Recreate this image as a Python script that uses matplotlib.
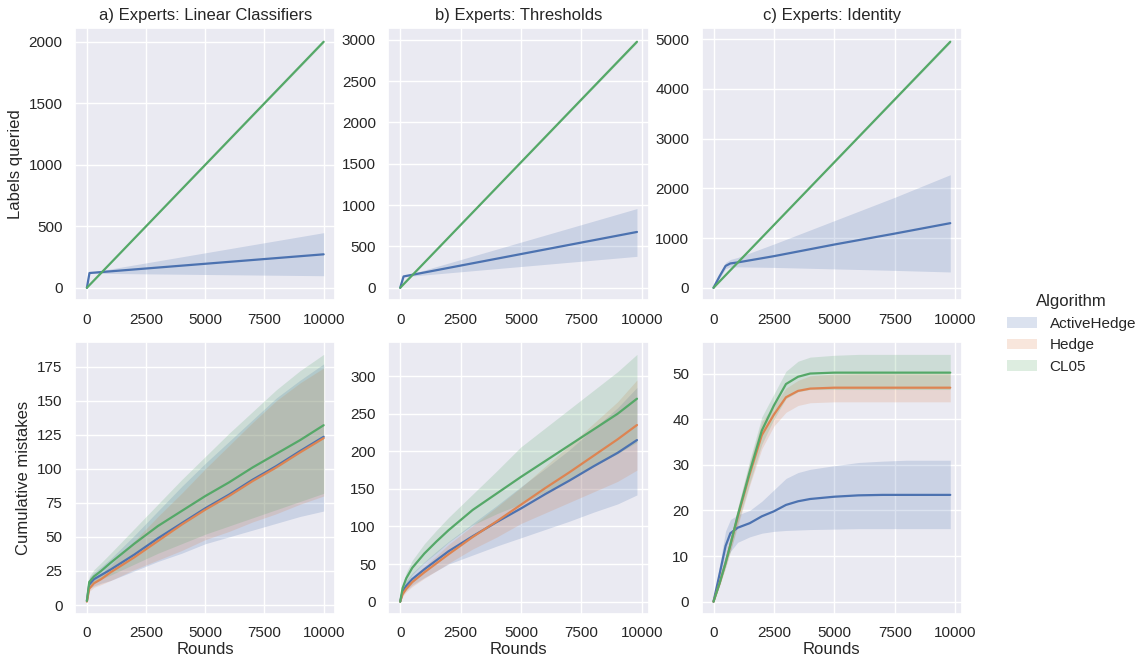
import numpy as np
import matplotlib
matplotlib.use("Agg")
import matplotlib.pyplot as plt
import seaborn as sns
from matplotlib.patches import Patch

# ---- data ----
algorithms = ["ActiveHedge", "Hedge", "CL05"]
titles = ["a) Experts: Linear Classifiers", "b) Experts: Thresholds", "c) Experts: Identity"]

# top row: labels queried
qa_x = [0, 110, 10000]
qa_active = [0, 120, 272]
qa_active_lo = [0, 118, 98]
qa_active_hi = [0, 124, 448]
qa_cl05_x = [0, 10000]
qa_cl05 = [0, 2000]

qb_x = [0, 140, 9800]
qb_active = [0, 137, 675]
qb_active_lo = [0, 133, 380]
qb_active_hi = [0, 141, 958]
qb_cl05_x = [0, 9800]
qb_cl05 = [0, 2975]

qc_x = [0, 250, 500, 700, 1000, 2500, 5000, 7500, 9800]
qc_active = [0, 230, 440, 490, 510, 636, 870, 1090, 1300]
qc_active_lo = [0, 200, 385, 420, 420, 410, 380, 350, 318]
qc_active_hi = [0, 260, 510, 570, 610, 880, 1350, 1820, 2275]
qc_cl05_x = [0, 9800]
qc_cl05 = [0, 4950]

# bottom row: cumulative mistakes
ma_x = [0, 100, 300, 600, 1000, 2000, 3000, 4000, 5000, 6000, 7000, 8000, 9000, 10000]
ma_active = [3, 15, 19, 22, 26, 37, 49, 60, 71, 81, 92, 102, 113, 123.5]
ma_active_lo = [3, 12, 14, 16, 18, 25, 32, 38, 45, 50, 55, 60, 65, 69]
ma_active_hi = [3, 20, 24, 28, 34, 51, 69, 87, 104, 120, 136, 152, 165, 177]
ma_hedge = [2.5, 12, 16, 19, 24, 35, 47, 59, 70, 80, 91, 101, 112, 122.5]
ma_hedge_lo = [2.5, 10, 13, 15, 18, 26, 33, 40, 48, 54, 61, 67, 74, 80]
ma_hedge_hi = [2.5, 15, 19, 23, 29, 47, 65, 82, 100, 117, 134, 150, 163, 174]
ma_cl05 = [3, 17, 21, 25, 31, 45, 58, 69, 80, 90, 101, 111, 121, 132]
ma_cl05_lo = [3, 13, 16, 19, 22, 30, 38, 45, 52, 58, 64, 70, 76, 82]
ma_cl05_hi = [3, 21, 26, 31, 38, 56, 74, 92, 109, 126, 142, 158, 172, 184]

mb_x = [0, 100, 250, 500, 1000, 1500, 2000, 3000, 4000, 5000, 6000, 7000, 8000, 9000, 9800]
mb_active = [0, 13, 21, 30, 43, 55, 67, 87, 106, 124, 143, 161, 180, 198, 215]
mb_active_lo = [0, 9, 15, 22, 32, 41, 50, 62, 74, 85, 96, 107, 119, 130, 142]
mb_active_hi = [0, 18, 28, 38, 53, 67, 80, 104, 128, 153, 177, 202, 230, 258, 285]
mb_hedge = [0, 10, 17, 26, 39, 51, 63, 86, 107, 129, 151, 172, 194, 216, 235]
mb_hedge_lo = [0, 7, 13, 20, 31, 41, 51, 70, 86, 104, 118, 132, 146, 160, 175]
mb_hedge_hi = [0, 13, 22, 32, 47, 61, 76, 101, 126, 152, 180, 208, 237, 266, 295]
mb_cl05 = [0, 18, 31, 45, 64, 80, 95, 122, 144, 166, 187, 208, 229, 250, 270]
mb_cl05_lo = [0, 13, 23, 36, 52, 65, 79, 102, 117, 130, 146, 162, 180, 197, 212]
mb_cl05_hi = [0, 23, 39, 55, 77, 95, 112, 143, 174, 206, 231, 256, 281, 306, 329]

mc_x = [0, 250, 500, 700, 1000, 1500, 2000, 2500, 3000, 3500, 4000, 5000, 6000, 7000, 8000, 9800]
mc_active = [0, 6, 12.2, 15, 16.2, 17.2, 18.7, 19.8, 21.2, 22, 22.5, 23, 23.3, 23.4, 23.4, 23.4]
mc_active_lo = [0, 4, 9, 11, 13, 14.2, 15, 15.4, 15.6, 15.7, 15.8, 15.9, 16, 16, 16, 16]
mc_active_hi = [0, 8, 15.5, 18, 19, 20, 22, 24.5, 27, 28.3, 29, 29.8, 30.5, 30.8, 31, 31]
mc_hedge = [0, 4, 8.5, 12.5, 18.5, 28, 36.5, 41, 44.8, 46.2, 46.7, 46.9, 46.9, 46.9, 46.9, 46.9]
mc_hedge_lo = [0, 3.5, 7.5, 11, 16.5, 25.5, 33.5, 38.5, 41.5, 43, 43.6, 43.8, 43.8, 43.8, 43.8, 43.8]
mc_hedge_hi = [0, 4.5, 9.5, 14, 20.5, 30.5, 39.5, 43, 46.8, 48.5, 49.5, 49.9, 50, 50, 50, 50]
mc_cl05 = [0, 4, 8.5, 12.5, 18.8, 28.5, 37.5, 43, 47.7, 49.3, 50, 50.2, 50.2, 50.2, 50.2, 50.2]
mc_cl05_lo = [0, 3.5, 7.5, 11, 17, 26, 34.5, 40, 44.5, 46, 46.5, 46.5, 46.5, 46.5, 46.5, 46.5]
mc_cl05_hi = [0, 4.5, 9.5, 14, 20.5, 31, 40.5, 45.5, 50.5, 52.7, 53.6, 54, 54.2, 54.2, 54.2, 54.2]

# ---- plotting ----
sns.set_theme(style="darkgrid")
plt.rcParams["font.family"] = ["Liberation Sans", "DejaVu Sans"]
colors = sns.color_palette("deep")[:3]

fig, axes = plt.subplots(2, 3, figsize=(11.44, 6.55), dpi=100)
fig.subplots_adjust(left=0.0656, right=0.841, top=0.957, bottom=0.0626,
                    wspace=0.203, hspace=0.154)


def draw(ax, x, mean, lo, hi, c):
    ax.fill_between(x, lo, hi, color=c, alpha=0.2, linewidth=0)
    ax.plot(x, mean, color=c, linewidth=1.6)


# top row
top = [
    (qa_x, qa_active, qa_active_lo, qa_active_hi, qa_cl05_x, qa_cl05),
    (qb_x, qb_active, qb_active_lo, qb_active_hi, qb_cl05_x, qb_cl05),
    (qc_x, qc_active, qc_active_lo, qc_active_hi, qc_cl05_x, qc_cl05),
]
for ax, (x, m, lo, hi, cx, cm), t in zip(axes[0], top, titles):
    draw(ax, x, m, lo, hi, colors[0])
    cm = np.array(cm, dtype=float)
    ax.fill_between(cx, cm * 0.995, cm * 1.005, color=colors[2], alpha=0.2, linewidth=0)
    ax.plot(cx, cm, color=colors[2], linewidth=1.6)
    ax.set_title(t, fontsize=12)

# bottom row
bottom = [
    (ma_x, [(ma_active, ma_active_lo, ma_active_hi), (ma_hedge, ma_hedge_lo, ma_hedge_hi),
            (ma_cl05, ma_cl05_lo, ma_cl05_hi)]),
    (mb_x, [(mb_active, mb_active_lo, mb_active_hi), (mb_hedge, mb_hedge_lo, mb_hedge_hi),
            (mb_cl05, mb_cl05_lo, mb_cl05_hi)]),
    (mc_x, [(mc_active, mc_active_lo, mc_active_hi), (mc_hedge, mc_hedge_lo, mc_hedge_hi),
            (mc_cl05, mc_cl05_lo, mc_cl05_hi)]),
]
for ax, (x, series) in zip(axes[1], bottom):
    for (m, lo, hi), c in zip(series, colors):
        draw(ax, x, m, lo, hi, c)
    ax.set_xlabel("Rounds", fontsize=12, labelpad=1)

for ax in axes.flat:
    ax.set_xticks([0, 2500, 5000, 7500, 10000])
    ax.tick_params(labelsize=11, pad=3)

axes[0, 0].set_ylabel("Labels queried", fontsize=12)
axes[1, 0].set_ylabel("Cumulative mistakes", fontsize=12)

handles = [Patch(facecolor=c, alpha=0.2, edgecolor="none") for c in colors]
fig.legend(handles, algorithms, title="Algorithm", loc="center left",
           bbox_to_anchor=(0.868, 0.49), frameon=False, fontsize=11, title_fontsize=12,
           labelspacing=0.5)

fig.savefig("out.png", dpi=100)
